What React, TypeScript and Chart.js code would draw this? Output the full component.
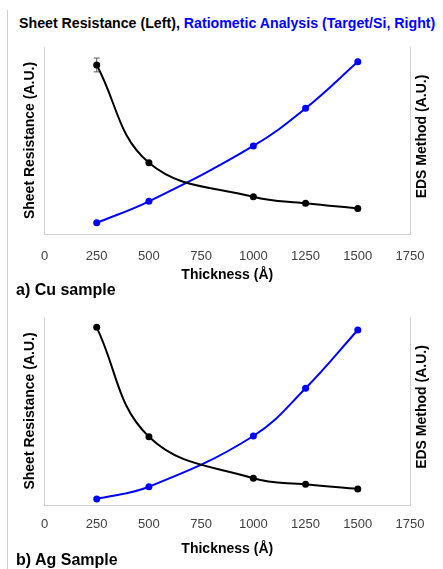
import React, { useEffect, useRef } from 'react';
import { Chart, registerables } from 'chart.js';

Chart.register(...registerables);

// ---- data ----
const thickness = [250, 500, 1000, 1250, 1500];
const xTicks = [0, 250, 500, 750, 1000, 1250, 1500, 1750];

const cuResistance = [90.4, 38.1, 19.9, 16.4, 13.7];
const cuResistanceErr = [3.7, 0, 0, 0, 0];
const cuEds = [6.0, 17.5, 47.1, 67.2, 92.1];

const agResistance = [94.5, 36.3, 14.2, 11.0, 8.5];
const agResistanceErr = [0, 0, 0, 0, 0];
const agEds = [3.2, 9.7, 36.7, 62.1, 93.1];

const titleBlack = 'Sheet Resistance (Left), ';
const titleBlue = 'Ratiometic Analysis (Target/Si, Right)';
const leftAxisTitle = 'Sheet Resistance (A.U.)';
const rightAxisTitle = 'EDS Method (A.U.)';
const xAxisTitle = 'Thickness (Å)';
const panelLabels = ['a) Cu sample', 'b) Ag Sample'];

const FONT = "'Liberation Sans', Arial, Helvetica, sans-serif";
const AXIS_GRAY = '#d0d0d0';
const W = 443;

const errorBarPlugin = {
  id: 'errorBars',
  beforeDatasetsDraw(chart: any, _args: any, opts: any) {
    const { ctx } = chart;
    const xs = chart.scales.x;
    const ys = chart.scales.y;
    const ds = chart.data.datasets[0].data as any[];
    (opts.errors || []).forEach((e: number, i: number) => {
      if (!e) return;
      const v = ds[i].y;
      const x = xs.getPixelForValue(ds[i].x);
      const yTop = ys.getPixelForValue(v + e);
      const yBot = ys.getPixelForValue(v - e);
      ctx.save();
      ctx.strokeStyle = '#595959';
      ctx.lineWidth = 1;
      ctx.beginPath();
      ctx.moveTo(x, yTop);
      ctx.lineTo(x, yBot);
      ctx.moveTo(x - 3, yTop);
      ctx.lineTo(x + 3, yTop);
      ctx.moveTo(x - 3, yBot);
      ctx.lineTo(x + 3, yBot);
      ctx.stroke();
      ctx.restore();
    });
  },
};

const rightTitlePlugin = {
  id: 'rightTitle',
  afterDraw(chart: any, _args: any, opts: any) {
    const { ctx, chartArea } = chart;
    ctx.save();
    ctx.translate(chartArea.right + opts.offset, (chartArea.top + chartArea.bottom) / 2 + opts.dy);
    ctx.rotate(-Math.PI / 2);
    ctx.font = `bold 14px ${FONT}`;
    ctx.fillStyle = '#000';
    ctx.textAlign = 'center';
    ctx.textBaseline = 'middle';
    ctx.fillText(opts.text, 0, 0);
    ctx.restore();
  },
};

type PanelProps = {
  top: number;
  height: number;
  areaTop: number;
  areaBottom: number;
  resistance: number[];
  resistanceErr: number[];
  eds: number[];
  tickPad: number;
  titlePad: number;
};

function Panel({ top, height, areaTop, areaBottom, resistance, resistanceErr, eds, tickPad, titlePad }: PanelProps) {
  const ref = useRef<HTMLCanvasElement>(null);
  useEffect(() => {
    const chart = new Chart(ref.current as HTMLCanvasElement, {
      type: 'line',
      data: {
        datasets: [
          {
            label: 'Sheet Resistance',
            data: thickness.map((x, i) => ({ x, y: resistance[i] })),
            yAxisID: 'y',
            borderColor: '#000000',
            backgroundColor: '#000000',
            pointBackgroundColor: '#000000',
            borderWidth: 2,
            pointRadius: 3.5,
            pointBorderWidth: 0,
            tension: 0.4,
          },
          {
            label: 'EDS',
            data: thickness.map((x, i) => ({ x, y: eds[i] })),
            yAxisID: 'y1',
            borderColor: '#0000ff',
            backgroundColor: '#0000ff',
            pointBackgroundColor: '#0000ff',
            borderWidth: 2,
            pointRadius: 3.5,
            pointBorderWidth: 0,
            tension: 0.4,
          },
        ],
      },
      options: {
        animation: false,
        responsive: false,
        maintainAspectRatio: false,
        layout: { padding: { top: areaTop, left: 0, right: 0, bottom: 0 } },
        plugins: {
          legend: { display: false },
          tooltip: { enabled: false },
          title: { display: false },
          errorBars: { errors: resistanceErr },
          rightTitle: { text: rightAxisTitle, offset: 12, dy: -4 },
        } as any,
        scales: {
          x: {
            type: 'linear',
            position: 'bottom',
            min: 0,
            max: 1750,
            afterBuildTicks: (s: any) => {
              s.ticks = xTicks.map((v) => ({ value: v }));
            },
            afterFit: (s: any) => {
              s.height = height - areaBottom;
            },
            grid: { display: false, drawTicks: false },
            border: { display: true, color: AXIS_GRAY, width: 1 },
            ticks: {
              padding: tickPad,
              color: '#404040',
              font: { family: FONT, size: 13 },
              maxRotation: 0,
              autoSkip: false,
              callback: (v: any) => String(v),
            },
            title: {
              display: true,
              text: xAxisTitle,
              color: '#000',
              font: { family: FONT, size: 14, weight: 'bold' },
              padding: { top: 0, bottom: titlePad },
            },
          },
          y: {
            position: 'left',
            min: 0,
            max: 100,
            afterFit: (s: any) => {
              s.width = 44.5;
            },
            grid: { display: false, drawTicks: false },
            border: { display: true, color: AXIS_GRAY, width: 1 },
            ticks: { display: false },
            title: {
              display: true,
              text: leftAxisTitle,
              color: '#000',
              font: { family: FONT, size: 14, weight: 'bold' },
              padding: { top: 21.6, bottom: 0 },
            },
          },
          y1: {
            position: 'right',
            min: 0,
            max: 100,
            afterFit: (s: any) => {
              s.width = W - 410;
            },
            grid: { display: false, drawTicks: false },
            border: { display: true, color: AXIS_GRAY, width: 1 },
            ticks: { display: false },
            title: { display: false },
          },
        },
      } as any,
      plugins: [errorBarPlugin, rightTitlePlugin],
    });
    return () => chart.destroy();
  }, []);
  return (
    <canvas
      ref={ref}
      width={W}
      height={height}
      style={{ position: 'absolute', left: 0, top, width: W, height }}
    />
  );
}

export default function App() {
  return (
    <div
      style={{
        position: 'absolute',
        left: 0,
        top: 0,
        width: W,
        height: 569,
        background: '#fff',
        fontFamily: FONT,
        overflow: 'hidden',
      }}
    >
      <div style={{ position: 'absolute', left: 7, top: 10, width: 1, height: 559, background: '#cccccc' }} />
      <div
        style={{
          position: 'absolute',
          left: 19,
          top: 15,
          fontSize: 14.2,
          lineHeight: '16px',
          fontWeight: 'bold',
          whiteSpace: 'nowrap',
        }}
      >
        <span style={{ color: '#000' }}>{titleBlack}</span>
        <span style={{ color: '#0000ff' }}>{titleBlue}</span>
      </div>
      <Panel
        top={30}
        height={260}
        areaTop={17}
        areaBottom={204}
        resistance={cuResistance}
        resistanceErr={cuResistanceErr}
        eds={cuEds}
        tickPad={15}
        titlePad={6.6}
      />
      <Panel
        top={300}
        height={260}
        areaTop={17}
        areaBottom={205}
        resistance={agResistance}
        resistanceErr={agResistanceErr}
        eds={agEds}
        tickPad={11.5}
        titlePad={2.6}
      />
      <div
        style={{
          position: 'absolute',
          left: 16,
          top: 281,
          fontSize: 16,
          lineHeight: '18px',
          fontWeight: 'bold',
          whiteSpace: 'nowrap',
          zIndex: 2,
        }}
      >
        {panelLabels[0]}
      </div>
      <div
        style={{
          position: 'absolute',
          left: 16,
          top: 551,
          fontSize: 16,
          lineHeight: '18px',
          fontWeight: 'bold',
          whiteSpace: 'nowrap',
          zIndex: 2,
        }}
      >
        {panelLabels[1]}
      </div>
    </div>
  );
}
